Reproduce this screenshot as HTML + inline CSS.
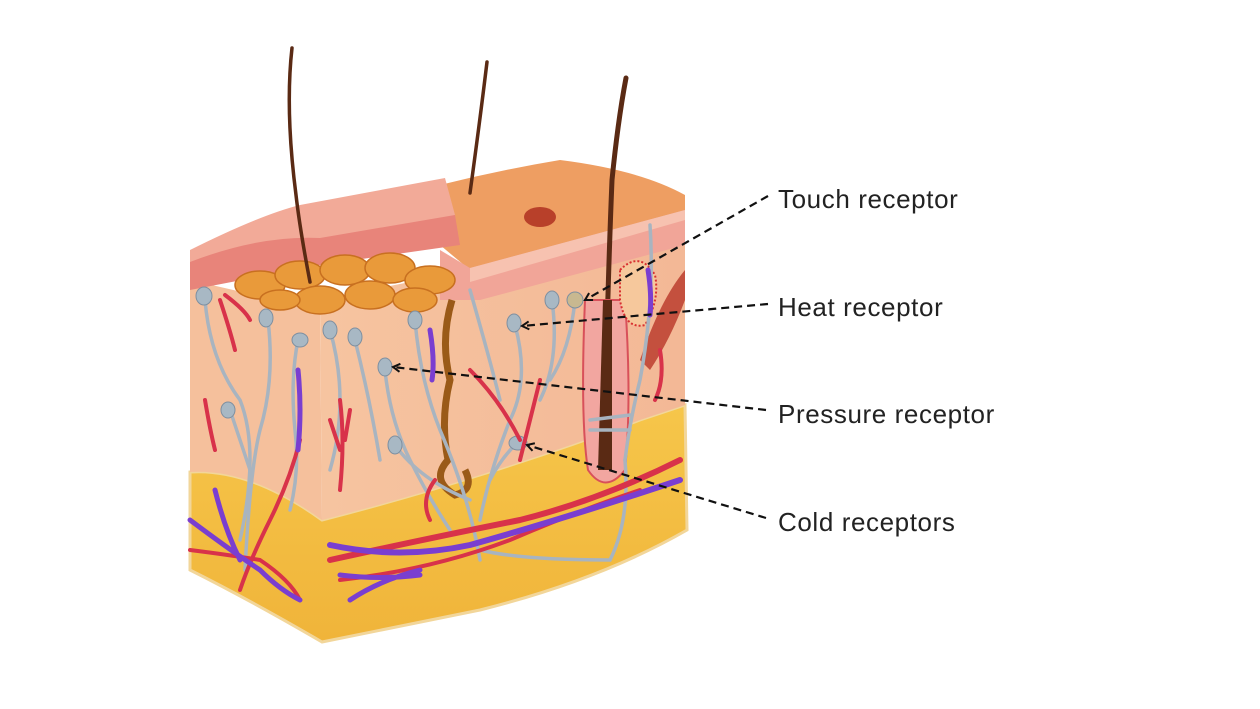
<!DOCTYPE html>
<html><head><meta charset="utf-8"><style>
html,body{margin:0;padding:0;background:#fff;width:1260px;height:709px;overflow:hidden}
svg{position:absolute;left:0;top:0}
.t{font-family:"Liberation Sans",sans-serif;font-size:26px;fill:#222;letter-spacing:0.6px}
</style></head><body>
<svg width="1260" height="709" viewBox="0 0 1260 709">
<defs>
<linearGradient id="fat" x1="0" y1="0" x2="0" y2="1"><stop offset="0" stop-color="#f6c64a"/><stop offset="1" stop-color="#f0b43a"/></linearGradient>
<linearGradient id="derm" x1="0" y1="0" x2="1" y2="0"><stop offset="0" stop-color="#f6c4a0"/><stop offset="1" stop-color="#f3b896"/></linearGradient>
<marker id="ar" markerWidth="10" markerHeight="10" refX="8" refY="5" orient="auto" markerUnits="userSpaceOnUse"><path d="M1,1 L8,5 L1,9" fill="none" stroke="#111" stroke-width="2"/></marker>
</defs>
<!-- fat layer -->
<path d="M190,472 Q250,468 322,520 Q400,500 480,475 Q560,450 640,420 L685,405 L687,530 Q600,580 480,610 L322,642 Q250,600 190,570 Z" fill="url(#fat)" stroke="#f2d69a" stroke-width="3"/>
<!-- dermis left face -->
<path d="M190,280 L320,310 L322,520 Q250,468 190,472 Z" fill="#f5c09c"/>
<!-- dermis right face -->
<path d="M320,300 L470,270 L685,220 L685,405 L640,420 Q560,450 480,475 Q400,500 322,520 Z" fill="url(#derm)"/>
<!-- top surface -->
<path d="M440,185 Q500,170 560,160 Q640,170 685,195 L685,215 L470,270 L440,245 Z" fill="#ee9e62"/>
<ellipse cx="540" cy="217" rx="16" ry="10" fill="#b8402a"/>
<!-- epidermis right -->
<path d="M440,250 L470,268 L685,210 L685,245 L480,300 L440,300 Z" fill="#f1a598"/>
<path d="M470,268 L685,210 L685,220 L470,282 Z" fill="#f7c2b0"/>
<!-- peeled flap left -->
<path d="M190,250 Q260,215 300,205 L445,178 L455,215 Q380,240 330,250 L190,280 Z" fill="#f2aa98"/>
<path d="M190,262 Q260,235 320,238 L455,215 L460,245 L320,265 L190,290 Z" fill="#e8847a"/>
<!-- orange lobules -->
<g fill="#e99a3a" stroke="#c87020" stroke-width="1.5">
<ellipse cx="260" cy="285" rx="25" ry="14"/><ellipse cx="300" cy="275" rx="25" ry="14"/>
<ellipse cx="345" cy="270" rx="25" ry="15"/><ellipse cx="390" cy="268" rx="25" ry="15"/>
<ellipse cx="430" cy="280" rx="25" ry="14"/><ellipse cx="320" cy="300" rx="25" ry="14"/>
<ellipse cx="370" cy="295" rx="25" ry="14"/><ellipse cx="415" cy="300" rx="22" ry="12"/>
<ellipse cx="280" cy="300" rx="20" ry="10"/>
</g>
<!-- hairs -->
<g fill="none" stroke="#5a2a14" stroke-width="4" stroke-linecap="round">
<path d="M310,282 Q300,230 296,195 Q285,110 292,48" stroke-width="3.5"/>
<path d="M470,193 Q480,120 487,62" stroke-width="3.5"/>
<path d="M604,470 Q607,300 612,180 Q618,120 626,78" stroke-width="5"/>
</g>
<!-- hair follicle -->
<path d="M585,300 Q580,420 588,470 Q605,495 625,470 Q632,400 625,300 Z" fill="#f2a6a0" stroke="#d8505a" stroke-width="2"/>
<path d="M598,470 L603,300 L612,300 L612,470 Z" fill="#5a2a14"/>
<!-- muscle -->
<path d="M640,360 Q660,300 685,270 L685,300 Q670,340 650,370 Z" fill="#c4503e"/>
<!-- gland -->
<path d="M620,270 Q640,250 655,275 Q660,300 645,325 Q625,330 620,300 Z" fill="#f6c89c" stroke="#d83030" stroke-width="2" stroke-dasharray="2,2"/>
<!-- sweat duct -->
<path d="M452,300 Q440,340 450,380 Q440,420 448,460 Q430,480 455,495 Q475,490 465,470" fill="none" stroke="#9a5a18" stroke-width="7"/>
<!-- nerves (gray) -->
<g fill="none" stroke="#a8b4c0" stroke-width="3.5" stroke-linecap="round">
<path d="M205,300 Q210,360 240,400 Q260,450 240,540"/>
<path d="M268,320 Q275,380 260,430 Q250,470 245,570"/>
<path d="M298,340 Q290,380 295,430 Q300,470 290,510"/>
<path d="M230,410 Q240,440 250,470"/>
<path d="M330,330 Q350,400 330,470"/>
<path d="M355,340 Q370,400 380,460"/>
<path d="M385,370 Q390,420 410,460 Q430,500 450,530"/>
<path d="M415,320 Q420,380 440,430 Q470,500 480,560"/>
<path d="M395,445 Q420,480 470,500"/>
<path d="M515,325 Q530,380 510,420 Q490,470 480,520"/>
<path d="M552,300 Q560,360 540,400"/>
<path d="M575,300 Q570,350 550,380"/>
<path d="M515,445 Q500,460 490,480"/>
<path d="M470,290 Q490,360 500,400"/>
<path d="M650,225 Q655,300 640,380 Q630,420 625,460"/>
<path d="M590,420 L630,415 M590,430 L630,430"/>
<path d="M625,460 Q630,520 610,560 Q520,560 480,550"/>
</g>
<g fill="#a8b8c4" stroke="#7e8fa0" stroke-width="1">
<ellipse cx="204" cy="296" rx="8" ry="9"/><ellipse cx="266" cy="318" rx="7" ry="9"/>
<ellipse cx="300" cy="340" rx="8" ry="7"/><ellipse cx="228" cy="410" rx="7" ry="8"/>
<ellipse cx="330" cy="330" rx="7" ry="9"/><ellipse cx="355" cy="337" rx="7" ry="9"/>
<ellipse cx="385" cy="367" rx="7" ry="9"/><ellipse cx="415" cy="320" rx="7" ry="9"/>
<ellipse cx="395" cy="445" rx="7" ry="9"/><ellipse cx="514" cy="323" rx="7" ry="9"/>
<ellipse cx="552" cy="300" rx="7" ry="9"/><ellipse cx="575" cy="300" rx="8" ry="8" fill="#c8b890"/>
<ellipse cx="518" cy="443" rx="9" ry="7"/>
</g>
<!-- red vessels -->
<g fill="none" stroke="#d8324a" stroke-width="4" stroke-linecap="round">
<path d="M220,300 Q230,330 235,350 M225,295 Q245,310 250,320"/>
<path d="M205,400 Q210,430 215,450"/>
<path d="M340,400 Q345,440 340,490 M330,420 L340,450 M350,410 L345,440"/>
<path d="M300,440 Q290,480 270,520 Q250,560 240,590"/>
<path d="M190,550 Q230,555 260,560 Q290,580 300,600"/>
<path d="M330,560 Q420,540 520,520 Q600,500 680,460" stroke-width="6"/>
<path d="M340,580 Q430,570 510,540 Q580,510 640,490"/>
<path d="M470,370 Q500,400 520,440"/>
<path d="M540,380 Q530,420 520,460"/>
<path d="M660,350 Q665,380 655,400"/>
<path d="M435,480 Q420,500 430,520"/>
</g>
<!-- purple vessels -->
<g fill="none" stroke="#7a3ed0" stroke-width="5" stroke-linecap="round">
<path d="M298,370 Q302,410 298,450"/>
<path d="M190,520 Q230,550 260,570 Q280,590 300,600"/>
<path d="M215,490 Q225,530 240,560"/>
<path d="M330,545 Q400,560 470,545 Q560,520 680,480" stroke-width="6"/>
<path d="M340,575 Q380,580 420,575 M350,600 Q380,580 420,570"/>
<path d="M430,330 Q435,360 432,380"/>
<path d="M648,270 Q652,295 650,315"/>
</g>
<!-- dashed leaders -->
<g fill="none" stroke="#111" stroke-width="2.2" stroke-dasharray="8,5" marker-end="url(#ar)">
<path d="M768,196 L585,300"/>
<path d="M768,304 L522,326"/>
<path d="M766,410 L393,367"/>
<path d="M766,518 L527,445"/>
</g>
<text class="t" x="778" y="208">Touch receptor</text>
<text class="t" x="778" y="316">Heat receptor</text>
<text class="t" x="778" y="423">Pressure receptor</text>
<text class="t" x="778" y="531">Cold receptors</text>
</svg>
</body></html>
